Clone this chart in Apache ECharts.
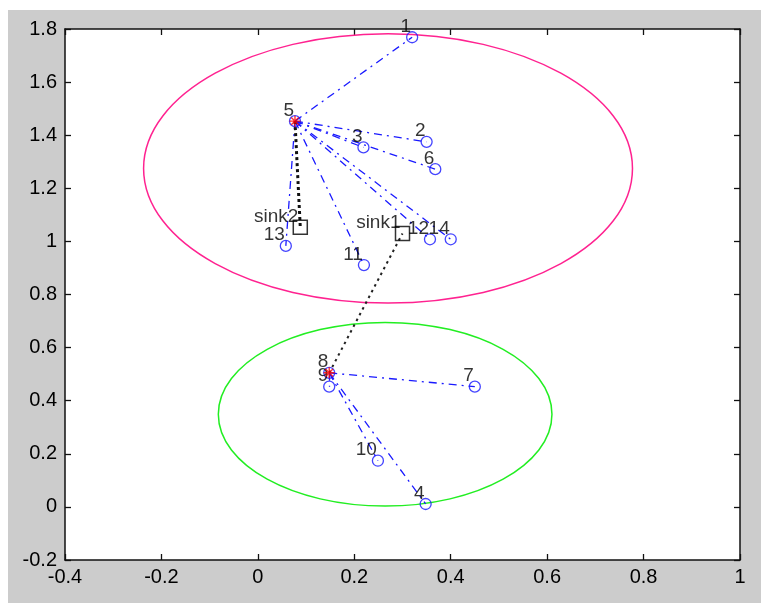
<!DOCTYPE html>
<html>
<head>
<meta charset="utf-8">
<script src="https://cdn.jsdelivr.net/npm/echarts@6/dist/echarts.min.js"></script>
<style>
  html, body { margin: 0; padding: 0; background: #ffffff; width: 761px; height: 603px; overflow: hidden; }
  #chart { position: absolute; left: 8px; top: 10px; width: 753px; height: 593px; }
</style>
</head>
<body>
<div id="chart"></div>
<script>
// ---- data ----
const nodeNames = ['1','2','3','4','5','6','7','8','9','10','11','12','13','14'];
const nodeX = [0.320, 0.350, 0.219, 0.348, 0.077, 0.368, 0.450, 0.148, 0.148, 0.249, 0.220, 0.357, 0.058, 0.400];
const nodeY = [1.769, 1.375, 1.354, 0.011, 1.453, 1.272, 0.453, 0.505, 0.453, 0.174, 0.911, 1.008, 0.983, 1.008];
const headNodes = ['5', '8'];
const sinkNames = ['sink1', 'sink2'];
const sinkX = [0.300, 0.088];
const sinkY = [1.030, 1.053];
const memberFrom = ['5','5','5','5','5','5','5','5','8','8','8','8'];
const memberTo   = ['1','2','3','6','11','12','13','14','4','7','9','10'];
const uplinkFrom = ['5', '8'];
const uplinkTo   = ['sink2', 'sink1'];
const regionCX = [0.270, 0.264];
const regionCY = [1.275, 0.349];
const regionR  = [0.507, 0.346];
const xMin = -0.4, xMax = 1, xStep = 0.2;
const yMin = -0.2, yMax = 1.8, yStep = 0.2;

// ---- styling ----
const FONT = 'Liberation Sans, Arial, sans-serif';
const regionColors = ['#ff2290', '#22ee22'];

function posOf(name) {
  let i = nodeNames.indexOf(name);
  if (i >= 0) return [nodeX[i], nodeY[i]];
  i = sinkNames.indexOf(name);
  return [sinkX[i], sinkY[i]];
}

const chart = echarts.init(document.getElementById('chart'), null, { renderer: 'canvas' });

const axisCommon = {
  type: 'value',
  splitLine: { show: false },
  axisLine: { show: true, onZero: false, lineStyle: { color: '#111', width: 1.5 } },
  axisTick: { show: true, inside: true, length: 6, lineStyle: { color: '#111', width: 1.3 } }
};

const option = {
  backgroundColor: '#cccccc',
  animation: false,
  grid: { left: 57, top: 19, right: 21, bottom: 43, show: true, backgroundColor: '#ffffff', borderWidth: 0 },
  xAxis: [
    Object.assign({}, axisCommon, {
      min: xMin, max: xMax, interval: xStep, position: 'bottom',
      axisLabel: { color: '#000', fontFamily: FONT, fontSize: 20, margin: 7 }
    }),
    Object.assign({}, axisCommon, {
      min: xMin, max: xMax, interval: xStep, position: 'top',
      axisLabel: { show: false }
    })
  ],
  yAxis: [
    Object.assign({}, axisCommon, {
      min: yMin, max: yMax, interval: yStep, position: 'left',
      axisLabel: { color: '#000', fontFamily: FONT, fontSize: 20, margin: 8 }
    }),
    Object.assign({}, axisCommon, {
      min: yMin, max: yMax, interval: yStep, position: 'right',
      axisLabel: { show: false }
    })
  ],
  series: [
    {
      type: 'custom',
      coordinateSystem: 'cartesian2d',
      silent: true,
      z: 1,
      data: regionCX.map((cx, i) => [cx, regionCY[i], regionR[i]]),
      renderItem: function (params, api) {
        const c = api.coord([api.value(0), api.value(1)]);
        const rx = api.size([api.value(2), 0])[0];
        const ry = api.size([0, api.value(2)])[1];
        return {
          type: 'ellipse',
          shape: { cx: c[0], cy: c[1], rx: rx, ry: ry },
          style: { fill: 'none', stroke: regionColors[params.dataIndex], lineWidth: 1.5 }
        };
      }
    },
    {
      type: 'lines',
      coordinateSystem: 'cartesian2d',
      silent: true,
      z: 2,
      lineStyle: { color: '#1a1aff', width: 1.3, type: [8, 5, 2, 5], opacity: 1 },
      data: memberFrom.map((f, i) => ({ coords: [posOf(f), posOf(memberTo[i])] }))
    },
    {
      type: 'lines',
      coordinateSystem: 'cartesian2d',
      silent: true,
      z: 3,
      data: uplinkFrom.map((f, i) => ({
        coords: [posOf(f), posOf(uplinkTo[i])],
        lineStyle: i === 0
          ? { color: '#111', width: 3, type: [3, 3], opacity: 1 }
          : { color: '#222', width: 2, type: [2.5, 4], opacity: 1 }
      }))
    },
    {
      type: 'scatter',
      silent: true,
      z: 4,
      symbol: 'circle',
      symbolSize: 11,
      itemStyle: { color: 'rgba(0,0,0,0)', borderColor: '#1515ff', borderWidth: 1.3 },
      label: {
        show: true, position: 'top', distance: 0, align: 'right', verticalAlign: 'bottom',
        offset: [-1, 5], formatter: '{b}', color: '#000', fontFamily: FONT, fontSize: 19
      },
      data: nodeNames.map((n, i) => ({ name: n, value: [nodeX[i], nodeY[i]] }))
    },
    {
      type: 'scatter',
      silent: true,
      z: 5,
      symbol: 'path://M0,5L10,5M5,0L5,10M1.6,1.6L8.4,8.4M8.4,1.6L1.6,8.4',
      symbolSize: 11,
      itemStyle: { color: 'rgba(0,0,0,0)', borderColor: '#ff0000', borderWidth: 1.4 },
      data: headNodes.map(n => ({ name: n, value: posOf(n) }))
    },
    {
      type: 'scatter',
      silent: true,
      z: 4,
      symbol: 'rect',
      symbolSize: 14,
      itemStyle: { color: 'rgba(0,0,0,0)', borderColor: '#000', borderWidth: 1.5 },
      label: {
        show: true, position: 'top', distance: 0, align: 'right', verticalAlign: 'bottom',
        offset: [-2, 7], formatter: '{b}', color: '#000', fontFamily: FONT, fontSize: 19
      },
      data: sinkNames.map((n, i) => ({ name: n, value: [sinkX[i], sinkY[i]] }))
    }
  ]
};

chart.setOption(option);
</script>
</body>
</html>
